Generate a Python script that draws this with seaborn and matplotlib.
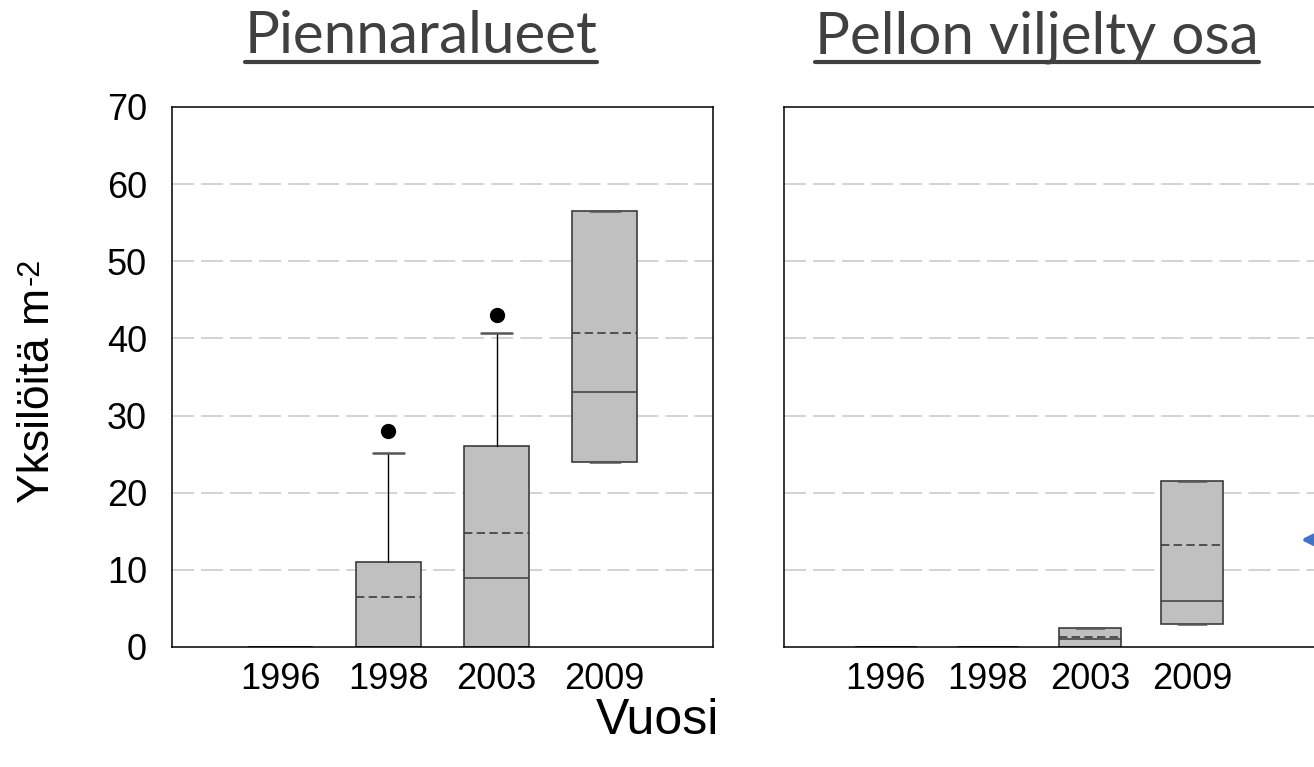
import matplotlib
matplotlib.use("Agg")
import matplotlib.pyplot as plt
import seaborn as sns
from matplotlib.lines import Line2D

# ---------------- data ----------------
years = ["1996", "1998", "2003", "2009"]

left_q1 = [0, 0, 0, 24.0]
left_q3 = [0, 11.0, 26.0, 56.5]
left_med = [0, 0, 9.0, 33.0]
left_mean = [0, 6.5, 14.8, 40.7]
left_whislo = [0, 0, 0, 24.0]
left_whishi = [0, 25.2, 40.7, 56.5]
left_fliers = [[], [28.0], [43.0], []]

right_q1 = [0, 0, 0, 3.0]
right_q3 = [0, 0, 2.5, 21.5]
right_med = [0, 0, 1.0, 6.0]
right_mean = [0, 0, 1.3, 13.2]
right_whislo = [0, 0, 0, 3.0]
right_whishi = [0, 0, 2.5, 21.5]
right_fliers = [[], [], [], []]

titles = ["Piennaralueet", "Pellon viljelty osa"]
yticks = [0, 10, 20, 30, 40, 50, 60, 70]
ylabel_main = "Yksilöitä m"
ylabel_sup = "-2"
xlabel = "Vuosi"

# ---------------- style ----------------
sns.set_theme(style="white")
plt.rcParams["font.family"] = ["Liberation Sans", "DejaVu Sans"]

W, H = 1314, 767
fig = plt.figure(figsize=(W / 100, H / 100), dpi=100)

ax_l = fig.add_axes([172 / W, 1 - 647 / H, 541 / W, 540 / H])
ax_r = fig.add_axes([784 / W, 1 - 647 / H, 5.4 * 102 / W, 540 / H])


def stats_of(q1, q3, med, mean, lo, hi, fl):
    out = []
    for i in range(len(q1)):
        out.append(dict(q1=q1[i], q3=q3[i], med=med[i], mean=mean[i],
                        whislo=lo[i], whishi=hi[i], fliers=fl[i]))
    return out


edge = "#3c3c3c"
box_kw = dict(
    positions=[1, 2, 3, 4], widths=0.6, patch_artist=True, showmeans=True,
    meanline=True, manage_ticks=False,
    boxprops=dict(facecolor="#c0c0c0", edgecolor=edge, linewidth=1.2),
    medianprops=dict(color=edge, linewidth=1.1),
    meanprops=dict(color=edge, linewidth=1.2, linestyle=(0, (5, 2.6))),
    whiskerprops=dict(color="black", linewidth=1.0),
    capprops=dict(color="#555555", linewidth=1.8),
    flierprops=dict(marker="o", markerfacecolor="black",
                    markeredgecolor="black", markersize=10),
    capwidths=0.28,
)

ax_l.bxp(stats_of(left_q1, left_q3, left_med, left_mean, left_whislo,
                  left_whishi, left_fliers), **box_kw)
ax_r.bxp(stats_of(right_q1, right_q3, right_med, right_mean, right_whislo,
                  right_whishi, right_fliers), **box_kw)

for k, ax in enumerate((ax_l, ax_r)):
    ax.set_ylim(0, 70)
    ax.set_xlim(0, 5 if k == 0 else 5.4)
    ax.set_yticks(yticks)
    for v in yticks[1:-1]:
        ax.axhline(v, color="#c8c8c8", linewidth=1.1,
                   linestyle=(0, (14.4, 4.6)), zorder=0)
    for s in ax.spines.values():
        s.set_color("black")
        s.set_linewidth(1.1)
    ax.tick_params(axis="both", direction="out", length=6, width=1.1,
                   color="black", labelsize=26, labelcolor="black")
    ax.tick_params(axis="y", pad=12)
    ax.tick_params(axis="x", pad=5)
    ax.set_facecolor("white")

ax_l.set_xticks([0, 1, 2, 3, 4, 5])
ax_l.set_xticklabels([""] + years + [""])
ax_r.set_xticks([0, 1, 2, 3, 4])
ax_r.set_xticklabels([""] + years)
ax_r.set_yticklabels([])

# blue pointer cut off at the right edge of the reference
ax_r.annotate("", xy=(5.04, 13.9), xytext=(5.9, 13.9),
              arrowprops=dict(arrowstyle="-|>", color="#4472c4", lw=3,
                              mutation_scale=36), annotation_clip=False)

# axis labels
yl = fig.text(38 / W, 1 - 395 / H, ylabel_main, rotation=90, ha="center",
              va="center", fontsize=32, color="black")
fig.text(657 / W, 1 - 721 / H, xlabel, ha="center", va="center",
         fontsize=36, color="black")

# underlined titles
title_color = "#404040"
tx = [421 / W, 1037 / W]
t_objs = []
for t, x in zip(titles, tx):
    t_objs.append(fig.text(x, 1 - 53 / H, t, ha="center", va="baseline",
                           fontsize=42, color=title_color,
                           family=["Lato", "DejaVu Sans"]))
fig.canvas.draw()
r = fig.canvas.get_renderer()
for tobj in t_objs:
    bb = tobj.get_window_extent(renderer=r)
    yline = 1 - 62 / H
    fig.add_artist(Line2D([bb.x0 / W, bb.x1 / W], [yline, yline],
                          color=title_color, linewidth=3.0,
                          transform=fig.transFigure))

# superscript of the y label, placed after the main text
bb = yl.get_window_extent(renderer=r)
fig.text((bb.x0 - 2) / W, (bb.y1 + 3) / H, ylabel_sup, rotation=90,
         ha="left", va="bottom", fontsize=22, color="black")

fig.savefig("out.png", dpi=100)
